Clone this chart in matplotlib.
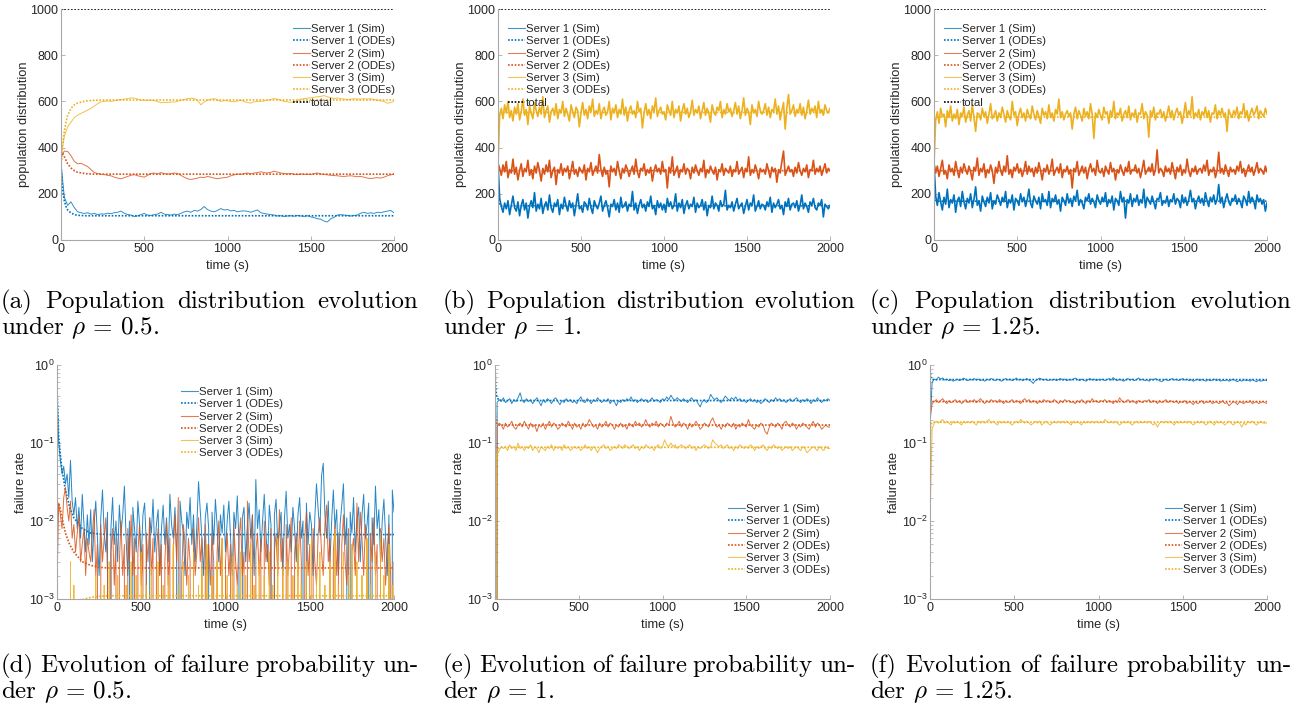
import numpy as np
import matplotlib
matplotlib.use('Agg')
import matplotlib.pyplot as plt

plt.rcParams['font.family'] = ['Liberation Sans', 'DejaVu Sans']
plt.rcParams['mathtext.fontset'] = 'custom'
plt.rcParams['mathtext.rm'] = 'Liberation Sans'
plt.rcParams['mathtext.it'] = 'Liberation Sans:italic'

# ---------------- data ----------------
# (a) rho = 0.5, population, sampled every 20 s
pop_a_s1 = [333, 185, 150, 165, 140, 122, 118, 115, 118, 112,
            115, 110, 113, 112, 116, 114, 118, 120, 125, 116,
            110, 108, 102, 104, 110, 115, 108, 106, 110, 112,
            120, 112, 110, 108, 112, 110, 115, 122, 125, 120,
            128, 125, 132, 145, 132, 125, 122, 128, 136, 130,
            132, 126, 128, 122, 125, 126, 124, 120, 125, 130,
            118, 115, 112, 110, 108, 104, 105, 102, 104, 105,
            103, 106, 104, 102, 105, 100, 97, 92, 90, 82,
            78, 92, 98, 108, 110, 108, 106, 104, 106, 108,
            116, 120, 115, 118, 115, 120, 118, 122, 125, 128, 118]
pop_a_s2 = [360, 385, 383, 365, 340, 330, 332, 325, 318, 305,
            292, 288, 285, 283, 280, 278, 272, 268, 265, 270,
            275, 280, 283, 278, 275, 272, 280, 288, 290, 286,
            292, 288, 285, 287, 290, 288, 280, 272, 265, 262,
            265, 268, 272, 270, 275, 272, 268, 265, 268, 270,
            272, 278, 282, 285, 284, 288, 290, 286, 290, 292,
            295, 292, 290, 293, 298, 294, 290, 288, 286, 288,
            285, 283, 286, 284, 285, 283, 288, 290, 286, 284,
            282, 280, 279, 278, 276, 275, 277, 278, 276, 274,
            275, 272, 268, 266, 268, 270, 268, 272, 278, 282, 285]
pop_a_s3 = [360, 450, 490, 510, 530, 540, 548, 555, 562, 570,
            580, 590, 598, 600, 602, 600, 603, 605, 608, 610,
            612, 615, 614, 610, 606, 605, 604, 606, 603, 600,
            594, 596, 595, 598, 597, 600, 605, 608, 612, 614,
            612, 605, 585, 598, 605, 610, 612, 606, 600, 603,
            603, 600, 598, 602, 605, 600, 595, 593, 598, 600,
            600, 602, 605, 608, 612, 610, 605, 600, 598, 596,
            598, 604, 610, 612, 614, 615, 618, 620, 622, 625,
            620, 616, 612, 615, 612, 610, 608, 610, 612, 610,
            610, 612, 610, 612, 608, 605, 602, 600, 592, 595, 600]
ode_a_t = [0, 5, 10, 20, 30, 40, 60, 80, 100, 150, 200, 300, 2000]
ode_a_s1 = [333, 260, 215, 170, 145, 130, 117, 110, 107, 105, 105, 105, 105]
ode_a_s2 = [333, 370, 375, 360, 345, 330, 312, 300, 293, 287, 285, 285, 285]
ode_a_s3 = [333, 370, 410, 470, 510, 540, 570, 585, 593, 602, 605, 606, 606]

# (b) rho = 1, population, sampled every 10 s
pop_b_s1 = [333, 180, 145, 120, 160, 135, 170, 110, 150, 190, 140, 125, 165, 105, 150, 175, 130, 160, 95, 145,
            170, 140, 205, 125, 155, 135, 180, 115, 150, 165, 130, 195, 140, 120, 160, 145, 175, 110, 155, 135,
            185, 150, 125, 170, 140, 160, 105, 150, 200, 135, 145, 120, 165, 155, 130, 180, 140, 115, 170, 150,
            135, 160, 190, 125, 150, 170, 140, 100, 155, 145, 175, 130, 160, 120, 185, 140, 150, 165, 125, 155,
            145, 210, 130, 160, 115, 150, 175, 140, 155, 125, 165, 145, 190, 135, 150, 110, 170, 140, 160, 130,
            155, 120, 180, 145, 165, 135, 150, 200, 125, 160, 140, 175, 115, 150, 170, 135, 155, 145, 185, 120,
            160, 140, 150, 175, 130, 165, 105, 150, 140, 190, 135, 160, 150, 125, 170, 145, 155, 215, 130, 150,
            140, 165, 125, 155, 180, 135, 150, 160, 115, 145, 175, 130, 160, 150, 195, 125, 145, 170, 135, 155,
            150, 130, 165, 145, 185, 120, 160, 140, 155, 175, 135, 150, 110, 165, 145, 180, 130, 155, 160, 140,
            170, 125, 150, 195, 135, 160, 145, 120, 165, 150, 180, 140, 130, 160, 150, 175, 100, 155, 145, 135, 150]
pop_b_s2 = [333, 310, 280, 325, 295, 340, 270, 305, 290, 350, 285, 315, 260, 300, 330, 275, 310, 295, 345, 280,
            305, 265, 320, 290, 335, 300, 255, 310, 285, 325, 295, 345, 270, 300, 315, 240, 305, 290, 330, 280,
            310, 295, 320, 265, 300, 340, 285, 305, 275, 315, 300, 290, 325, 260, 310, 295, 335, 280, 300, 320,
            290, 370, 305, 275, 315, 285, 300, 230, 320, 295, 310, 280, 340, 300, 265, 310, 290, 325, 305, 275,
            300, 320, 285, 350, 295, 270, 310, 300, 330, 280, 305, 290, 315, 255, 300, 325, 295, 310, 285, 340,
            295, 305, 225, 315, 290, 360, 280, 300, 320, 270, 305, 295, 330, 285, 310, 300, 265, 315, 290, 325,
            300, 280, 310, 295, 345, 270, 305, 290, 320, 300, 285, 315, 260, 305, 295, 330, 280, 310, 300, 290,
            320, 275, 305, 295, 340, 285, 300, 315, 270, 310, 295, 360, 280, 305, 290, 325, 300, 265, 310, 295,
            305, 285, 330, 300, 270, 315, 295, 310, 250, 305, 290, 340, 385, 280, 300, 320, 295, 305, 275, 315,
            290, 335, 300, 280, 310, 295, 325, 270, 305, 300, 345, 285, 310, 295, 320, 280, 305, 330, 290, 310, 300]
pop_b_s3 = [333, 540, 570, 525, 585, 550, 600, 530, 560, 515, 575, 545, 590, 520, 555, 610, 540, 565, 500, 580,
            550, 525, 595, 560, 535, 575, 545, 620, 530, 560, 580, 510, 555, 570, 540, 590, 525, 565, 550, 600,
            535, 570, 545, 515, 585, 555, 530, 575, 560, 490, 550, 595, 540, 565, 525, 580, 555, 610, 535, 560,
            545, 590, 525, 560, 575, 540, 555, 600, 520, 570, 550, 585, 530, 565, 545, 610, 540, 575, 515, 560,
            580, 545, 560, 530, 600, 555, 570, 485, 550, 590, 540, 565, 525, 580, 555, 615, 535, 560, 575, 545,
            555, 520, 585, 560, 540, 600, 530, 565, 550, 580, 515, 560, 590, 545, 570, 530, 555, 605, 540, 565,
            550, 580, 525, 560, 595, 540, 570, 550, 510, 585, 555, 540, 575, 560, 600, 530, 565, 545, 590, 555,
            570, 535, 560, 595, 545, 580, 525, 560, 615, 540, 570, 555, 500, 585, 550, 565, 535, 600, 560, 545,
            560, 590, 540, 575, 530, 565, 555, 610, 545, 580, 520, 560, 595, 480, 570, 630, 545, 560, 585, 535,
            565, 550, 590, 540, 575, 525, 560, 605, 545, 570, 555, 580, 530, 600, 550, 565, 540, 585, 560, 550, 570]
ode_b_t = [0, 2, 5, 10, 20, 2000]
ode_b_s1 = [333, 220, 170, 152, 148, 148]
ode_b_s2 = [333, 318, 305, 301, 300, 300]
ode_b_s3 = [333, 460, 525, 547, 552, 552]

# (c) rho = 1.25, population, sampled every 10 s
pop_c_s1 = [333, 190, 150, 205, 165, 130, 185, 155, 220, 140, 175, 160, 195, 120, 170, 185, 145, 210, 165, 135,
            180, 160, 200, 140, 175, 230, 150, 170, 125, 190, 165, 145, 185, 160, 205, 135, 170, 155, 195, 175,
            150, 185, 165, 210, 140, 175, 160, 195, 130, 180, 170, 150, 200, 165, 185, 145, 175, 220, 160, 140,
            190, 170, 155, 185, 135, 200, 165, 175, 150, 210, 140, 180, 165, 195, 155, 175, 125, 185, 170, 150,
            200, 160, 180, 145, 190, 170, 215, 150, 175, 160, 135, 185, 170, 200, 155, 180, 165, 140, 195, 170,
            155, 185, 165, 205, 145, 175, 160, 190, 130, 180, 170, 150, 210, 165, 185, 95, 175, 160, 200, 145,
            180, 165, 195, 150, 175, 160, 220, 140, 185, 170, 155, 190, 165, 135, 180, 175, 205, 150, 170, 160,
            190, 145, 175, 165, 200, 155, 180, 170, 140, 195, 160, 185, 150, 175, 215, 165, 180, 135, 170, 190,
            160, 180, 150, 205, 170, 145, 185, 165, 195, 155, 175, 240, 160, 185, 140, 175, 200, 165, 150, 180,
            170, 195, 155, 180, 165, 140, 190, 175, 150, 210, 160, 185, 170, 135, 195, 165, 180, 155, 175, 125, 160]
pop_c_s2 = [333, 290, 320, 275, 310, 345, 285, 300, 265, 325, 295, 310, 280, 340, 300, 270, 315, 290, 330, 305,
            285, 320, 295, 260, 315, 300, 355, 280, 310, 295, 330, 270, 305, 290, 325, 300, 245, 315, 290, 340,
            300, 280, 320, 295, 365, 285, 305, 270, 315, 300, 330, 290, 310, 275, 300, 340, 285, 320, 295, 310,
            275, 315, 290, 335, 300, 260, 310, 295, 325, 285, 305, 350, 280, 300, 315, 290, 330, 270, 305, 295,
            320, 285, 305, 225, 310, 295, 340, 280, 300, 320, 290, 315, 265, 305, 330, 295, 310, 280, 345, 300,
            290, 310, 275, 320, 300, 285, 335, 295, 310, 260, 305, 290, 325, 300, 280, 315, 295, 340, 285, 305,
            300, 325, 290, 310, 270, 305, 345, 285, 300, 315, 295, 330, 280, 305, 390, 290, 310, 300, 275, 320,
            295, 310, 285, 335, 300, 265, 315, 295, 325, 280, 305, 290, 350, 300, 275, 310, 295, 320, 285, 305,
            310, 290, 325, 300, 345, 280, 305, 295, 315, 270, 300, 380, 290, 310, 285, 325, 300, 275, 315, 295,
            305, 285, 320, 300, 340, 290, 310, 275, 300, 325, 295, 315, 280, 305, 335, 290, 310, 300, 285, 320, 295]
pop_c_s3 = [333, 520, 555, 505, 570, 535, 545, 490, 560, 530, 580, 515, 545, 525, 565, 500, 550, 535, 575, 510,
            540, 560, 515, 585, 530, 470, 550, 545, 520, 570, 535, 555, 505, 545, 590, 525, 540, 560, 515, 550,
            530, 575, 545, 510, 560, 535, 520, 600, 540, 555, 495, 545, 570, 530, 550, 515, 565, 540, 525, 580,
            545, 520, 560, 535, 505, 570, 540, 555, 525, 585, 530, 550, 515, 565, 545, 610, 530, 555, 520, 545,
            560, 535, 550, 480, 545, 575, 525, 560, 540, 515, 570, 535, 555, 525, 590, 545, 440, 550, 530, 565,
            540, 520, 575, 545, 555, 505, 560, 535, 600, 525, 550, 540, 570, 515, 545, 560, 530, 580, 520, 550,
            535, 565, 510, 550, 545, 590, 525, 555, 540, 445, 560, 535, 575, 520, 550, 545, 565, 530, 555, 515,
            545, 580, 530, 560, 520, 550, 570, 540, 555, 505, 545, 595, 530, 560, 540, 620, 525, 550, 535, 565,
            520, 555, 540, 575, 530, 560, 510, 550, 545, 585, 525, 560, 540, 570, 535, 550, 470, 565, 545, 530,
            560, 540, 575, 525, 555, 545, 590, 530, 560, 515, 550, 570, 540, 555, 580, 525, 560, 545, 535, 570, 545]
ode_c_t = [0, 2, 5, 10, 20, 2000]
ode_c_s1 = [333, 240, 190, 172, 168, 168]
ode_c_s2 = [333, 318, 305, 300, 300, 300]
ode_c_s3 = [333, 440, 505, 528, 532, 532]

# (d) rho = 0.5, failure rate in units of 1e-3, sampled every 10 s (0 = no failure)
fail_d_s1 = [500, 100, 60, 40, 50, 30, 40, 20, 60, 18, 12, 20, 8, 15, 6, 22, 9, 4, 12, 5,
             14, 3, 9, 18, 6, 2, 11, 25, 7, 4, 13, 0, 8, 20, 5, 10, 3, 16, 7, 12,
             28, 6, 2, 10, 0, 15, 8, 4, 18, 9, 3, 12, 17, 5, 0, 11, 7, 19, 4, 9,
             14, 2, 8, 16, 5, 11, 3, 22, 9, 6, 15, 4, 0, 18, 10, 7, 2, 13, 8, 20,
             5, 12, 3, 9, 32, 14, 6, 2, 11, 17, 8, 0, 13, 5, 19, 9, 3, 12, 7, 16,
             4, 10, 18, 6, 2, 13, 8, 21, 5, 0, 11, 15, 3, 9, 17, 6, 12, 2, 34, 8,
             14, 4, 10, 22, 7, 3, 16, 9, 0, 12, 19, 5, 8, 13, 2, 11, 24, 6, 9, 4,
             15, 8, 3, 12, 20, 6, 10, 0, 17, 5, 13, 9, 2, 11, 30, 14, 7, 38, 55, 12,
             6, 18, 3, 10, 25, 8, 14, 2, 9, 16, 30, 5, 11, 0, 13, 7, 20, 4, 10, 15,
             3, 12, 22, 6, 9, 17, 0, 11, 5, 28, 8, 14, 3, 10, 19, 6, 2, 12, 0, 25, 13]
fail_d_s2 = [1.5, 17, 12, 8, 20, 27, 15, 10, 18, 6, 9, 4, 7, 12, 3, 5, 8, 2, 6, 4,
             3, 7, 14, 2, 5, 0, 9, 3, 6, 11, 2, 0, 4, 8, 1.5, 6, 0, 3, 10, 2,
             5, 0, 8, 3, 12, 2, 6, 0, 4, 9, 1.5, 5, 0, 7, 3, 11, 2, 6, 0, 4,
             8, 2, 5, 0, 3, 10, 1.5, 6, 0, 4, 12, 3, 20, 0, 2, 9, 5, 1.5, 6, 3,
             0, 8, 2, 4, 11, 3, 6, 0, 9, 2, 5, 1.5, 7, 3, 0, 4, 10, 2, 6, 0,
             3, 7, 2, 5, 0, 9, 3, 1.5, 6, 11, 2, 4, 0, 18, 3, 5, 12, 0, 4, 7,
             2, 6, 0, 10, 3, 5, 1.5, 8, 0, 4, 7, 2, 14, 3, 6, 0, 9, 2, 5, 11,
             0, 4, 7, 2, 10, 3, 0, 6, 13, 2, 5, 0, 8, 3, 1.5, 7, 11, 4, 2, 9,
             16, 3, 6, 0, 4, 9, 2, 7, 0, 5, 12, 3, 1.5, 8, 0, 4, 6, 2, 17, 3,
             13, 6, 2, 9, 4, 0, 7, 3, 11, 2, 5, 0, 8, 3, 6, 1.5, 4, 9, 2, 0, 3]
fail_d_s3 = [0, 0, 0, 0, 0, 0, 0, 0, 3, 0, 1.5, 0, 0, 0, 1, 0, 0, 0, 0, 0,
             0, 0, 0, 2, 0, 0, 0, 0, 1.5, 0, 0, 3, 0, 0, 0, 0, 2, 0, 0, 0,
             0, 1.5, 0, 0, 3, 0, 0, 2, 0, 0, 4, 0, 0, 1.5, 0, 0, 2.5, 0, 0, 0,
             3, 0, 0, 1.5, 0, 0, 2, 0, 0, 5, 0, 0, 1.5, 0, 0, 3, 0, 0, 2, 0,
             0, 4, 0, 0, 1.5, 0, 2.5, 0, 0, 5, 0, 0, 2, 0, 0, 3, 0, 0, 6, 0,
             0, 2, 0, 0, 3.5, 0, 0, 1.5, 0, 4, 0, 0, 2, 0, 0, 5, 0, 1.5, 0, 0,
             3, 0, 0, 2, 0, 0, 4, 0, 1.5, 0, 0, 6, 0, 0, 2.5, 0, 0, 3, 0, 0,
             2, 0, 0, 5, 0, 1.5, 0, 0, 3, 0, 0, 6, 0, 0, 2, 0, 4, 0, 0, 1.5,
             0, 0, 3, 0, 0, 7, 0, 1.5, 0, 0, 4, 0, 0, 2, 0, 5, 0, 0, 3, 0,
             0, 2, 0, 0, 6, 0, 1.5, 0, 0, 4, 0, 0, 7, 0, 2, 0, 0, 5, 0, 1.5, 0]
ode_d_t = [0, 5, 10, 20, 30, 50, 75, 100, 150, 200, 250, 300, 2000]
ode_d_s1 = [500, 250, 120, 70, 45, 25, 15, 11, 8, 7, 6.8, 6.7, 6.7]
ode_d_s2 = [8, 14, 17, 14, 11, 7, 5, 4, 3, 2.7, 2.55, 2.5, 2.5]
ode_d_s3 = [0.3, 0.4, 0.5, 0.5, 0.5, 0.5, 0.6, 0.8, 0.98, 1.05, 1.08, 1.1, 1.1]

# (e) rho = 1, failure rate, sampled every 12.5 s
fail_e_s1 = [0, 0.33, 0.36, 0.34, 0.38, 0.33, 0.35, 0.37, 0.32, 0.36, 0.34, 0.38, 0.44, 0.35, 0.33, 0.37, 0.34, 0.36, 0.32, 0.35,
             0.38, 0.34, 0.30, 0.36, 0.33, 0.37, 0.35, 0.32, 0.36, 0.38, 0.34, 0.31, 0.35, 0.33, 0.37, 0.34, 0.36, 0.33, 0.35, 0.32,
             0.36, 0.39, 0.34, 0.33, 0.37, 0.35, 0.32, 0.36, 0.34, 0.38, 0.35, 0.33, 0.36, 0.34, 0.37, 0.32, 0.35, 0.34, 0.30, 0.35,
             0.33, 0.36, 0.34, 0.37, 0.35, 0.39, 0.34, 0.36, 0.33, 0.35, 0.37, 0.34, 0.36, 0.33, 0.35, 0.38, 0.34, 0.36, 0.35, 0.33,
             0.37, 0.35, 0.39, 0.36, 0.41, 0.37, 0.35, 0.38, 0.36, 0.34, 0.37, 0.35, 0.33, 0.36, 0.38, 0.34, 0.36, 0.32, 0.29, 0.34,
             0.36, 0.33, 0.35, 0.42, 0.38, 0.36, 0.38, 0.35, 0.33, 0.36, 0.40, 0.37, 0.35, 0.38, 0.36, 0.39, 0.35, 0.37, 0.34, 0.36,
             0.33, 0.35, 0.37, 0.34, 0.36, 0.33, 0.35, 0.32, 0.34, 0.37, 0.35, 0.33, 0.36, 0.34, 0.38, 0.35, 0.37, 0.34, 0.36, 0.33,
             0.35, 0.37, 0.34, 0.36, 0.38, 0.35, 0.33, 0.36, 0.34, 0.37, 0.35, 0.32, 0.36, 0.34, 0.38, 0.35, 0.33, 0.36, 0.35, 0.37, 0.35]
fail_e_s2 = [0, 0.16, 0.18, 0.17, 0.15, 0.18, 0.16, 0.17, 0.19, 0.16, 0.15, 0.17, 0.18, 0.16, 0.19, 0.17, 0.15, 0.18, 0.16, 0.17,
             0.14, 0.17, 0.16, 0.18, 0.15, 0.17, 0.19, 0.16, 0.18, 0.17, 0.15, 0.16, 0.18, 0.17, 0.16, 0.19, 0.17, 0.15, 0.18, 0.16,
             0.17, 0.15, 0.18, 0.16, 0.17, 0.20, 0.18, 0.16, 0.17, 0.15, 0.18, 0.16, 0.17, 0.19, 0.16, 0.18, 0.17, 0.15, 0.17, 0.16,
             0.18, 0.16, 0.17, 0.15, 0.18, 0.17, 0.16, 0.19, 0.17, 0.18, 0.16, 0.17, 0.20, 0.17, 0.16, 0.18, 0.17, 0.19, 0.16, 0.18,
             0.17, 0.16, 0.18, 0.17, 0.22, 0.18, 0.16, 0.17, 0.19, 0.16, 0.18, 0.17, 0.15, 0.18, 0.16, 0.17, 0.19, 0.17, 0.15, 0.16,
             0.18, 0.17, 0.16, 0.19, 0.21, 0.18, 0.16, 0.17, 0.15, 0.17, 0.16, 0.18, 0.17, 0.16, 0.18, 0.15, 0.17, 0.16, 0.18, 0.17,
             0.16, 0.20, 0.17, 0.16, 0.15, 0.17, 0.16, 0.18, 0.17, 0.14, 0.13, 0.16, 0.18, 0.17, 0.16, 0.18, 0.17, 0.15, 0.18, 0.19,
             0.17, 0.16, 0.18, 0.17, 0.15, 0.17, 0.16, 0.18, 0.17, 0.16, 0.15, 0.17, 0.19, 0.16, 0.18, 0.17, 0.15, 0.16, 0.17, 0.16, 0.16]
fail_e_s3 = [0, 0.07, 0.08, 0.09, 0.085, 0.09, 0.08, 0.095, 0.085, 0.09, 0.08, 0.10, 0.085, 0.09, 0.08, 0.09, 0.085, 0.095, 0.08, 0.09,
             0.085, 0.075, 0.09, 0.085, 0.08, 0.09, 0.085, 0.095, 0.08, 0.09, 0.085, 0.09, 0.08, 0.095, 0.085, 0.09, 0.08, 0.085, 0.09, 0.085,
             0.09, 0.08, 0.085, 0.095, 0.085, 0.09, 0.08, 0.09, 0.085, 0.075, 0.085, 0.09, 0.095, 0.085, 0.09, 0.08, 0.085, 0.09, 0.085, 0.095,
             0.09, 0.085, 0.095, 0.09, 0.085, 0.09, 0.095, 0.085, 0.09, 0.08, 0.09, 0.085, 0.095, 0.09, 0.085, 0.09, 0.08, 0.09, 0.095, 0.085,
             0.09, 0.11, 0.095, 0.09, 0.10, 0.09, 0.095, 0.085, 0.09, 0.095, 0.09, 0.085, 0.09, 0.095, 0.085, 0.09, 0.08, 0.09, 0.085, 0.09,
             0.095, 0.09, 0.085, 0.09, 0.11, 0.10, 0.095, 0.09, 0.095, 0.085, 0.09, 0.095, 0.085, 0.09, 0.08, 0.09, 0.085, 0.095, 0.09, 0.085,
             0.09, 0.085, 0.095, 0.09, 0.08, 0.09, 0.085, 0.09, 0.095, 0.085, 0.08, 0.09, 0.085, 0.095, 0.09, 0.085, 0.09, 0.08, 0.085, 0.09,
             0.085, 0.09, 0.08, 0.085, 0.09, 0.085, 0.08, 0.09, 0.085, 0.075, 0.08, 0.085, 0.09, 0.085, 0.08, 0.09, 0.085, 0.08, 0.09, 0.085, 0.085]
ode_e_t = [0, 2, 5, 10, 20, 40, 2000]
ode_e_s1 = [1.0, 0.7, 0.5, 0.4, 0.36, 0.35, 0.35]
ode_e_s2 = [0.3, 0.25, 0.2, 0.18, 0.17, 0.17, 0.17]
ode_e_s3 = [0.001, 0.01, 0.04, 0.07, 0.085, 0.088, 0.088]

# (f) rho = 1.25, failure rate, sampled every 12.5 s
fail_f_s1 = [0.15, 0.60, 0.66, 0.64, 0.70, 0.66, 0.68, 0.64, 0.66, 0.63, 0.65, 0.62, 0.64, 0.66, 0.63, 0.65, 0.68, 0.65, 0.63, 0.66,
             0.64, 0.67, 0.64, 0.66, 0.63, 0.65, 0.62, 0.66, 0.64, 0.67, 0.65, 0.63, 0.66, 0.64, 0.62, 0.65, 0.67, 0.64, 0.66, 0.63,
             0.65, 0.68, 0.64, 0.66, 0.63, 0.65, 0.67, 0.64, 0.62, 0.58, 0.63, 0.65, 0.68, 0.66, 0.64, 0.66, 0.63, 0.65, 0.64, 0.66,
             0.63, 0.65, 0.67, 0.64, 0.66, 0.63, 0.65, 0.64, 0.66, 0.68, 0.65, 0.63, 0.66, 0.64, 0.62, 0.65, 0.67, 0.64, 0.66, 0.63,
             0.65, 0.64, 0.66, 0.63, 0.65, 0.67, 0.64, 0.69, 0.65, 0.63, 0.66, 0.64, 0.62, 0.65, 0.67, 0.64, 0.66, 0.63, 0.65, 0.68,
             0.64, 0.66, 0.63, 0.65, 0.62, 0.66, 0.64, 0.67, 0.65, 0.63, 0.61, 0.64, 0.66, 0.63, 0.65, 0.67, 0.64, 0.66, 0.63, 0.65,
             0.67, 0.64, 0.66, 0.63, 0.65, 0.62, 0.64, 0.66, 0.63, 0.65, 0.64, 0.62, 0.65, 0.63, 0.64, 0.66, 0.63, 0.65, 0.62, 0.64,
             0.63, 0.65, 0.62, 0.64, 0.66, 0.63, 0.61, 0.64, 0.62, 0.65, 0.63, 0.64, 0.62, 0.65, 0.63, 0.61, 0.64, 0.62, 0.63, 0.64, 0.63]
fail_f_s2 = [0.20, 0.32, 0.34, 0.36, 0.33, 0.35, 0.37, 0.34, 0.32, 0.35, 0.33, 0.34, 0.36, 0.33, 0.35, 0.32, 0.34, 0.36, 0.33, 0.35,
             0.34, 0.36, 0.33, 0.35, 0.37, 0.34, 0.32, 0.35, 0.33, 0.36, 0.34, 0.35, 0.33, 0.36, 0.34, 0.32, 0.35, 0.33, 0.34, 0.36,
             0.33, 0.35, 0.34, 0.32, 0.35, 0.37, 0.34, 0.36, 0.33, 0.35, 0.34, 0.32, 0.35, 0.33, 0.36, 0.34, 0.35, 0.33, 0.34, 0.36,
             0.34, 0.32, 0.35, 0.33, 0.36, 0.34, 0.35, 0.33, 0.34, 0.32, 0.35, 0.33, 0.36, 0.34, 0.32, 0.35, 0.33, 0.37, 0.34, 0.35,
             0.33, 0.35, 0.34, 0.36, 0.33, 0.35, 0.34, 0.32, 0.35, 0.33, 0.38, 0.35, 0.33, 0.34, 0.36, 0.33, 0.35, 0.34, 0.32, 0.35,
             0.34, 0.33, 0.35, 0.34, 0.36, 0.33, 0.35, 0.34, 0.32, 0.35, 0.33, 0.34, 0.36, 0.33, 0.35, 0.34, 0.33, 0.35, 0.32, 0.34,
             0.33, 0.35, 0.32, 0.34, 0.33, 0.31, 0.34, 0.32, 0.33, 0.35, 0.32, 0.34, 0.33, 0.35, 0.32, 0.33, 0.34, 0.32, 0.33, 0.35,
             0.32, 0.33, 0.30, 0.32, 0.34, 0.33, 0.31, 0.34, 0.33, 0.32, 0.34, 0.33, 0.35, 0.32, 0.33, 0.34, 0.32, 0.33, 0.34, 0.33, 0.32]
fail_f_s3 = [0.01, 0.15, 0.18, 0.19, 0.18, 0.19, 0.20, 0.18, 0.19, 0.18, 0.17, 0.19, 0.18, 0.19, 0.18, 0.17, 0.19, 0.18, 0.19, 0.18,
             0.19, 0.18, 0.17, 0.19, 0.18, 0.19, 0.18, 0.19, 0.20, 0.18, 0.19, 0.18, 0.17, 0.19, 0.18, 0.19, 0.18, 0.19, 0.18, 0.17,
             0.18, 0.19, 0.18, 0.20, 0.19, 0.18, 0.19, 0.18, 0.17, 0.18, 0.19, 0.18, 0.19, 0.17, 0.18, 0.19, 0.18, 0.17, 0.18, 0.19,
             0.18, 0.19, 0.18, 0.19, 0.18, 0.19, 0.18, 0.17, 0.19, 0.18, 0.19, 0.18, 0.17, 0.19, 0.18, 0.19, 0.18, 0.19, 0.18, 0.19,
             0.18, 0.19, 0.18, 0.20, 0.19, 0.18, 0.19, 0.18, 0.19, 0.18, 0.17, 0.18, 0.19, 0.18, 0.19, 0.18, 0.17, 0.18, 0.19, 0.18,
             0.19, 0.18, 0.19, 0.18, 0.19, 0.18, 0.17, 0.18, 0.16, 0.18, 0.19, 0.18, 0.19, 0.18, 0.19, 0.18, 0.17, 0.19, 0.18, 0.19,
             0.18, 0.19, 0.18, 0.19, 0.18, 0.17, 0.18, 0.19, 0.18, 0.19, 0.18, 0.17, 0.18, 0.19, 0.18, 0.17, 0.19, 0.18, 0.19, 0.18,
             0.17, 0.18, 0.19, 0.18, 0.17, 0.18, 0.19, 0.18, 0.16, 0.18, 0.17, 0.19, 0.18, 0.19, 0.18, 0.17, 0.18, 0.19, 0.18, 0.18, 0.18]
ode_f_t = [0, 2, 5, 10, 20, 2000]
ode_f_s1 = [0.95, 0.8, 0.7, 0.66, 0.65, 0.65]
ode_f_s2 = [0.45, 0.4, 0.36, 0.345, 0.34, 0.34]
ode_f_s3 = [0.01, 0.1, 0.16, 0.18, 0.185, 0.185]

total_n = 1000
captions = [
    ('(a) Population distribution evolution', r'under $\rho\,=\,0.5$.'),
    ('(b) Population distribution evolution', r'under $\rho\,=\,1$.'),
    ('(c) Population distribution evolution', r'under $\rho\,=\,1.25$.'),
    ('(d) Evolution of failure probability un-', r'der $\rho\,=\,0.5$.'),
    ('(e) Evolution of failure probability un-', r'der $\rho\,=\,1$.'),
    ('(f) Evolution of failure probability un-', r'der $\rho\,=\,1.25$.'),
]

# ---------------- drawing ----------------
W, H = 1305, 706
colors = ['#0072BD', '#D95319', '#EDB120']
fig = plt.figure(figsize=(W / 100, H / 100), dpi=100)


def px_axes(l, t, r, b):
    return fig.add_axes([l / W, 1 - b / H, (r - l) / W, (b - t) / H])


def style(ax):
    for s in ['top', 'right']:
        ax.spines[s].set_visible(False)
    for s in ['left', 'bottom']:
        ax.spines[s].set_color('#a8a8a8')
        ax.spines[s].set_linewidth(0.8)
    ax.tick_params(which='both', direction='in', color='#a8a8a8', labelcolor='#262626',
                   labelsize=9, pad=2)
    ax.tick_params(which='major', length=3, width=0.6)
    ax.tick_params(which='minor', length=1.8, width=0.5)
    ax.set_xlim(0, 2000)
    ax.set_xticks([0, 500, 1000, 1500, 2000])
    ax.set_xlabel('time (s)', fontsize=9.3, color='#262626', labelpad=4)


def sim_t(vals):
    return np.linspace(0, 2000, len(vals))


def add_legend(ax, xy):
    leg = ax.legend(loc='upper left', bbox_to_anchor=(xy[0] / W, 1 - xy[1] / H),
                    bbox_transform=fig.transFigure, frameon=False, fontsize=8.2,
                    borderpad=0, borderaxespad=0, labelspacing=0.2, handlelength=1.45,
                    handletextpad=0.15, labelcolor='#262626')
    # thin, light handles for the simulation traces
    for h in leg.legend_handles:
        if h.get_linestyle() == '-':
            h.set_linewidth(0.8)
            h.set_alpha(0.75)
    return leg


def pop_panel(box, sims, ode_t, odes, leg_xy, lw, alpha):
    ax = px_axes(*box)
    for i in range(3):
        ax.plot(sim_t(sims[i]), sims[i], color=colors[i], lw=lw, alpha=alpha,
                label='Server %d (Sim)' % (i + 1))
        ax.plot(ode_t, odes[i], color=colors[i], lw=1.2, ls=(0, (1, 1)),
                label='Server %d (ODEs)' % (i + 1))
    ax.plot([0, 2000], [total_n, total_n], color='k', lw=1.2, ls=(0, (1, 1)), label='total')
    ax.set_ylim(0, 1000)
    ax.set_yticks([0, 200, 400, 600, 800, 1000])
    style(ax)
    ax.set_ylabel('population distribution', fontsize=9.3, color='#262626', labelpad=0)
    add_legend(ax, leg_xy)
    return ax


def fail_panel(box, sims, ode_t, odes, leg_xy, scale=1.0):
    ax = px_axes(*box)
    for i in range(3):
        ax.plot(sim_t(sims[i]), np.array(sims[i]) * scale, color=colors[i], lw=0.7, alpha=0.85,
                label='Server %d (Sim)' % (i + 1))
        ax.plot(ode_t, np.array(odes[i]) * scale, color=colors[i], lw=1.2, ls=(0, (1, 1)),
                label='Server %d (ODEs)' % (i + 1))
    ax.set_yscale('log', nonpositive='clip')
    ax.set_ylim(1e-3, 1)
    style(ax)
    ax.set_ylabel('failure rate', fontsize=9.3, color='#262626', labelpad=1)
    add_legend(ax, leg_xy)
    return ax


pop_panel((61, 9, 394, 240), [pop_a_s1, pop_a_s2, pop_a_s3], ode_a_t,
          [ode_a_s1, ode_a_s2, ode_a_s3], (293, 24), 0.7, 0.8)
pop_panel((498, 9, 830, 240), [pop_b_s1, pop_b_s2, pop_b_s3], ode_b_t,
          [ode_b_s1, ode_b_s2, ode_b_s3], (508, 24), 1.2, 1.0)
pop_panel((934, 9, 1267, 240), [pop_c_s1, pop_c_s2, pop_c_s3], ode_c_t,
          [ode_c_s1, ode_c_s2, ode_c_s3], (944, 24), 1.2, 1.0)
fail_panel((57, 365, 394, 599), [fail_d_s1, fail_d_s2, fail_d_s3], ode_d_t,
           [ode_d_s1, ode_d_s2, ode_d_s3], (181, 387), scale=1e-3)
fail_panel((495, 365, 830, 599), [fail_e_s1, fail_e_s2, fail_e_s3], ode_e_t,
           [ode_e_s1, ode_e_s2, ode_e_s3], (728, 504))
fail_panel((930, 365, 1267, 599), [fail_f_s1, fail_f_s2, fail_f_s3], ode_f_t,
           [ode_f_s1, ode_f_s2, ode_f_s3], (1165, 504))

# captions, first line justified like the LaTeX subcaption
renderer = fig.canvas.get_renderer()
cap_font = dict(fontsize=18, family='cmr10', math_fontfamily='cm', color='black')
cap_boxes = [(1, 418, 308, 334), (443, 855, 308, 334), (870, 1291, 308, 334),
             (1, 418, 672, 698), (443, 855, 672, 698), (870, 1291, 672, 698)]
for (line1, line2), (x0, x1, y1, y2) in zip(captions, cap_boxes):
    words = line1.split(' ')
    texts = [fig.text(0, 1 - y1 / H, w, va='baseline', ha='left', **cap_font) for w in words]
    widths = [t.get_window_extent(renderer).width for t in texts]
    gap = (x1 - x0 - sum(widths)) / (len(words) - 1)
    x = x0
    for t, w in zip(texts, widths):
        t.set_x(x / W)
        x += w + gap
    fig.text(x0 / W, 1 - y2 / H, line2, va='baseline', ha='left', **cap_font)

fig.savefig('out.png', dpi=100)
